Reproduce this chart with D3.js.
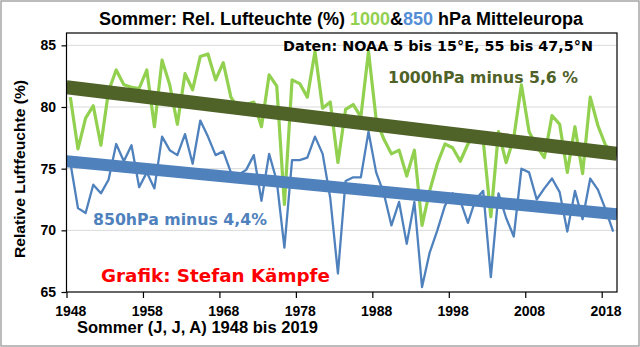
<!DOCTYPE html>
<html><head><meta charset="utf-8">
<script src="https://cdn.jsdelivr.net/npm/d3@7"></script>
<style>body{margin:0;background:#fff} svg{display:block}</style>
</head><body>
<svg id="c" width="640" height="347"></svg>
<script>
// ---- data ----
const years = d3.range(1948, 2020);
const rh1000 = [80.8,76.6,79.1,80.1,76.9,81.3,83.0,81.8,81.6,81.5,
  83.0,78.4,83.8,81.8,78.6,82.7,81.4,84.1,84.3,82.2,
  83.6,80.8,79.8,80.2,80.4,78.4,82.6,81.7,72.1,82.2,
  81.9,80.8,84.5,79.9,80.4,75.5,79.8,80.2,79.2,84.5,
  79.0,77.4,76.2,76.5,74.4,76.5,70.4,73.2,75.4,77.0,
  76.7,75.6,77.0,77.8,77.3,71.1,78.0,75.5,77.5,81.8,
  78.0,76.8,75.9,79.3,78.6,74.7,78.4,74.6,80.8,78.5,
  76.9,76.3];
const rh850 = [75.5,71.8,71.4,73.7,73.0,74.1,77.0,75.6,76.9,73.5,
  74.7,73.4,77.6,76.5,76.1,77.8,75.4,78.9,77.6,76.1,
  76.4,74.7,74.5,74.9,76.1,72.4,76.2,74.0,68.6,75.7,
  75.7,75.9,77.6,76.2,72.6,66.5,74.0,74.3,74.3,78.0,
  74.7,73.0,70.4,72.3,68.9,72.3,65.4,68.2,70.0,72.0,
  73.0,72.4,70.6,72.5,73.2,66.2,73.0,71.0,69.5,75.0,
  74.7,72.5,73.4,74.2,73.1,69.9,73.2,70.9,74.2,73.3,
  71.7,69.9];
const trendYears = [1948, 2020];
const trend1000 = [81.6, 76.2];
const trend850 = [75.6, 71.3];
const yTicks = [65, 70, 75, 80, 85];
const xTickYears = [1948, 1958, 1968, 1978, 1988, 1998, 2008, 2018];

// ---- layout ----
const svg = d3.select('#c');
const L = 66.5, R = 617, T = 33, B = 292;
const x = d3.scaleLinear().domain([1948, 2020]).range([L, R]);
const y = d3.scaleLinear().domain([65, 86]).range([B, T]);
const half = x(1948.5) - x(1948);

svg.append('rect').attr('x', 0).attr('y', 0).attr('width', 640).attr('height', 347).attr('fill', '#fff');
svg.append('rect').attr('x', 1).attr('y', 1).attr('width', 638).attr('height', 345)
  .attr('fill', 'none').attr('stroke', '#a6a6a6').attr('stroke-width', 1.5);

// grid
svg.append('g').selectAll('line').data(yTicks.filter(d => d > 65)).join('line')
  .attr('x1', L).attr('x2', R).attr('y1', d => y(d)).attr('y2', d => y(d))
  .attr('stroke', '#d9d9d9').attr('stroke-width', 1);

svg.append('defs').append('clipPath').attr('id', 'pc')
  .append('rect').attr('x', L).attr('y', T).attr('width', R - L).attr('height', B - T);

const plot = svg.append('g').attr('clip-path', 'url(#pc)');
const line = d3.line().x(d => x(d[0] + 0.5)).y(d => y(d[1]));
const tline = d3.line().x(d => x(d[0])).y(d => y(d[1]));

plot.append('path').datum(years.map((yr, i) => [yr, rh1000[i]]))
  .attr('d', line).attr('fill', 'none').attr('stroke', '#92d050').attr('stroke-width', 3.2)
  .attr('stroke-linejoin', 'round');
plot.append('path').datum(years.map((yr, i) => [yr, rh850[i]]))
  .attr('d', line).attr('fill', 'none').attr('stroke', '#4f81bd').attr('stroke-width', 2.3)
  .attr('stroke-linejoin', 'round');
plot.append('path').datum(trendYears.map((yr, i) => [yr, trend1000[i]]))
  .attr('d', tline).attr('fill', 'none').attr('stroke', '#4f6228').attr('stroke-width', 14);
plot.append('path').datum(trendYears.map((yr, i) => [yr, trend850[i]]))
  .attr('d', tline).attr('fill', 'none').attr('stroke', '#4f81bd').attr('stroke-width', 12);

// frame
svg.append('rect').attr('x', L).attr('y', T).attr('width', R - L).attr('height', B - T)
  .attr('fill', 'none').attr('stroke', '#000').attr('stroke-width', 1.2);

// axes
const fontAx = 'Liberation Sans, Arial, sans-serif';
const gx = svg.append('g').attr('transform', `translate(0,${B})`)
  .call(d3.axisBottom(x).tickValues(xTickYears).tickSize(6).tickFormat(d3.format('d')));
gx.select('.domain').remove();
gx.selectAll('line').attr('stroke', '#000').attr('stroke-width', 1.2);
gx.selectAll('text').attr('x', half).attr('y', 24).attr('dy', null)
  .attr('font-family', fontAx).attr('font-weight', 'bold').attr('font-size', 14).attr('fill', '#000');

const gy = svg.append('g').attr('transform', `translate(${L},0)`)
  .call(d3.axisLeft(y).tickValues(yTicks).tickSize(5));
gy.select('.domain').remove();
gy.selectAll('line').attr('stroke', '#000').attr('stroke-width', 1.2);
gy.selectAll('text').attr('x', -10.5)
  .attr('font-family', fontAx).attr('font-weight', 'bold').attr('font-size', 14).attr('fill', '#000');

// titles
const title = svg.append('text').attr('x', 341).attr('y', 25).attr('text-anchor', 'middle')
  .attr('font-family', fontAx).attr('font-weight', 'bold').attr('font-size', 18).attr('fill', '#000');
title.append('tspan').text('Sommer: Rel. Lufteuchte (%) ');
title.append('tspan').attr('fill', '#92d050').text('1000');
title.append('tspan').text('&');
title.append('tspan').attr('fill', '#558ed5').text('850');
title.append('tspan').text(' hPa Mitteleuropa');

svg.append('text').attr('x', 77).attr('y', 333)
  .attr('font-family', fontAx).attr('font-weight', 'bold').attr('font-size', 16.5)
  .attr('textLength', 241).attr('lengthAdjust', 'spacingAndGlyphs')
  .text('Sommer (J, J, A) 1948 bis 2019');

svg.append('text').attr('transform', 'translate(25,169) rotate(-90)').attr('text-anchor', 'middle')
  .attr('font-family', fontAx).attr('font-weight', 'bold').attr('font-size', 15)
  .attr('textLength', 178).attr('lengthAdjust', 'spacingAndGlyphs')
  .text('Relative Luftfeuchte (%)');

// annotations
const fontAn = 'DejaVu Sans, Verdana, sans-serif';
function ann(txt, x0, yb, size, w, col) {
  svg.append('text').attr('x', x0).attr('y', yb)
    .attr('font-family', fontAn).attr('font-weight', 'bold').attr('font-size', size)
    .attr('textLength', w).attr('lengthAdjust', 'spacingAndGlyphs')
    .attr('fill', col).text(txt);
}
ann('Daten: NOAA 5 bis 15°E, 55 bis 47,5°N', 283, 51, 14, 310, '#000');
ann('1000hPa minus 5,6 %', 388, 83, 16, 190, '#4f6228');
ann('850hPa minus 4,4%', 93, 225, 15.5, 174, '#4f81bd');
ann('Grafik: Stefan Kämpfe', 101, 282, 18, 229, '#ff0000');
</script>
</body></html>
